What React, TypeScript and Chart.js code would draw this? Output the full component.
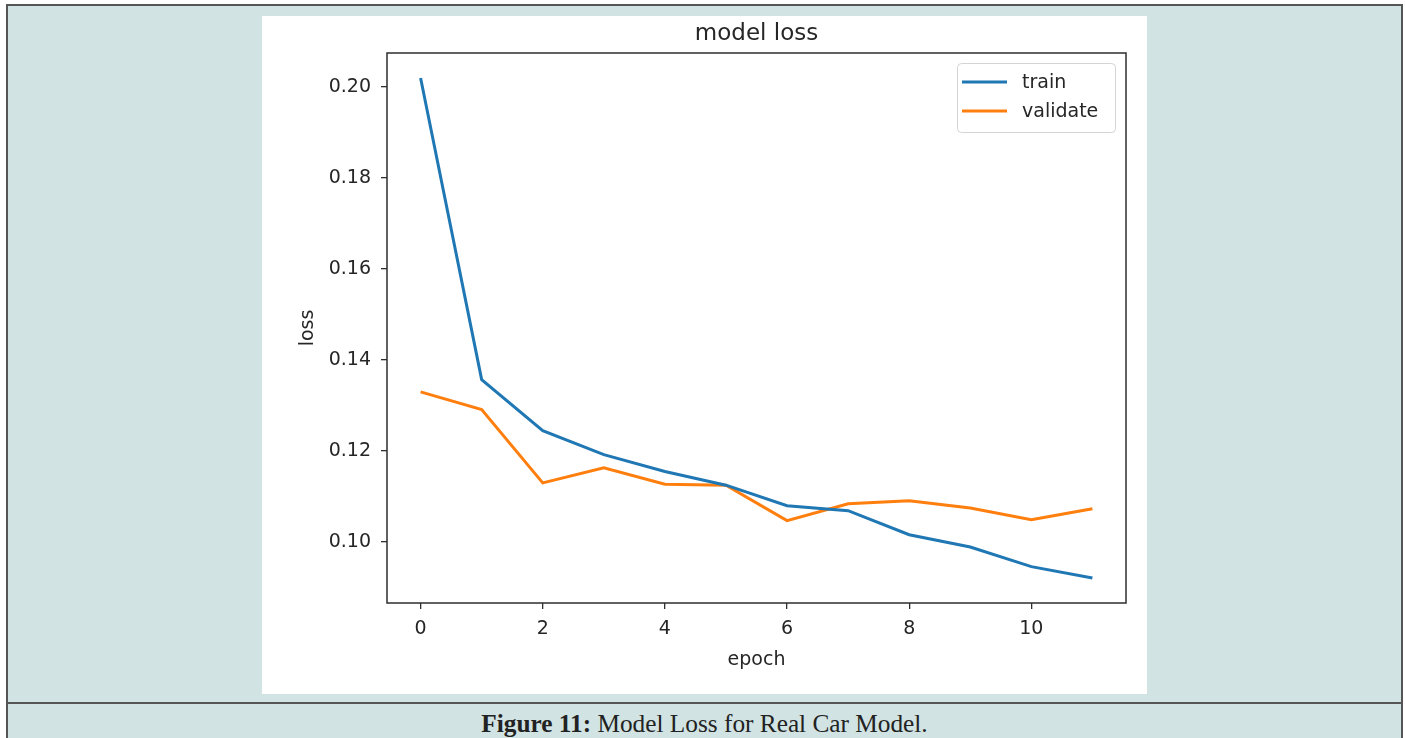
import React, { useEffect, useRef } from "react";
import { Chart, registerables } from "chart.js";

Chart.register(...registerables);

// ---- data ----
const EPOCHS = [0, 1, 2, 3, 4, 5, 6, 7, 8, 9, 10, 11];
const TRAIN_LOSS = [0.202, 0.1357, 0.1245, 0.1192, 0.1155, 0.1125, 0.108, 0.1069, 0.1016, 0.0989, 0.0946, 0.0921];
const VALIDATE_LOSS = [0.133, 0.1291, 0.113, 0.1163, 0.1127, 0.1125, 0.1047, 0.1084, 0.1091, 0.1075, 0.1049, 0.1073];
const SERIES_LABELS = ["train", "validate"];
const X_TICKS = [0, 2, 4, 6, 8, 10];
const Y_TICKS = [0.1, 0.12, 0.14, 0.16, 0.18, 0.2];
const X_RANGE = [-0.55, 11.55];
const Y_RANGE = [0.0866, 0.2075];
const CHART_TITLE = "model loss";
const X_TITLE = "epoch";
const Y_TITLE = "loss";
const CAPTION_BOLD = "Figure 11:";
const CAPTION_TEXT = " Model Loss for Real Car Model.";

// ---- styles ----
const FONT = '"DejaVu Sans", sans-serif';
const TEXT_COLOR = "#262626";
const AXIS_COLOR = "#2e2e2e";
const BLUE = "#1f77b4";
const ORANGE = "#ff7f0e";
const TEAL = "#d1e4e3";
const BORDER = "#555555";

const framePlugin = {
  id: "frame",
  afterDatasetsDraw(chart: any) {
    const { ctx, chartArea: a } = chart;
    ctx.save();
    ctx.strokeStyle = AXIS_COLOR;
    ctx.lineWidth = 1.5;
    ctx.strokeRect(a.left, a.top, a.right - a.left, a.bottom - a.top);
    ctx.restore();
  },
};

const titlePlugin = {
  id: "mplTitle",
  afterDraw(chart: any) {
    const { ctx, chartArea: a } = chart;
    ctx.save();
    ctx.fillStyle = TEXT_COLOR;
    ctx.font = `23px ${FONT}`;
    ctx.textAlign = "center";
    ctx.textBaseline = "middle";
    ctx.fillText(CHART_TITLE, (a.left + a.right) / 2, a.top - 19);
    ctx.restore();
  },
};

const legendPlugin = {
  id: "mplLegend",
  afterDraw(chart: any) {
    const { ctx, chartArea: a } = chart;
    const boxW = 158;
    const boxH = 69;
    const bx = Math.round(a.right - 11 - boxW);
    const by = Math.round(a.top + 10);
    ctx.save();
    ctx.beginPath();
    (ctx as any).roundRect(bx + 0.5, by + 0.5, boxW, boxH, 4);
    ctx.fillStyle = "rgba(255,255,255,0.85)";
    ctx.fill();
    ctx.strokeStyle = "#d4d4d4";
    ctx.lineWidth = 1;
    ctx.stroke();
    chart.data.datasets.forEach((ds: any, i: number) => {
      const y = by + 19 + i * 29;
      ctx.strokeStyle = ds.borderColor;
      ctx.lineWidth = 3;
      ctx.beginPath();
      ctx.moveTo(bx + 5, y);
      ctx.lineTo(bx + 50, y);
      ctx.stroke();
      ctx.fillStyle = TEXT_COLOR;
      ctx.font = `19px ${FONT}`;
      ctx.textAlign = "left";
      ctx.textBaseline = "middle";
      ctx.fillText(ds.label, bx + 65, y + 1);
    });
    ctx.restore();
  },
};

function ChartCanvas() {
  const ref = useRef<HTMLCanvasElement | null>(null);
  useEffect(() => {
    if (!ref.current) return;
    const chart = new Chart(ref.current, {
      type: "line",
      data: {
        datasets: [
          {
            label: SERIES_LABELS[0],
            data: EPOCHS.map((e, i) => ({ x: e, y: TRAIN_LOSS[i] })),
            borderColor: BLUE,
            backgroundColor: BLUE,
            borderWidth: 3,
            pointRadius: 0,
            tension: 0,
          },
          {
            label: SERIES_LABELS[1],
            data: EPOCHS.map((e, i) => ({ x: e, y: VALIDATE_LOSS[i] })),
            borderColor: ORANGE,
            backgroundColor: ORANGE,
            borderWidth: 3,
            pointRadius: 0,
            tension: 0,
          },
        ],
      },
      options: {
        animation: false,
        responsive: false,
        devicePixelRatio: 1,
        layout: { padding: { top: 37, right: 21, bottom: 0, left: 0 } },
        plugins: {
          legend: { display: false },
          title: { display: false },
          tooltip: { enabled: false },
        },
        scales: {
          x: {
            type: "linear",
            min: X_RANGE[0],
            max: X_RANGE[1],
            afterBuildTicks: (s: any) => {
              s.ticks = X_TICKS.map((v) => ({ value: v }));
            },
            afterFit: (s: any) => {
              s.height = 91;
            },
            grid: { drawOnChartArea: false, drawTicks: true, tickLength: 6, color: AXIS_COLOR, lineWidth: 1.3 },
            border: { display: false },
            ticks: {
              padding: 9,
              color: TEXT_COLOR,
              font: { family: FONT, size: 19 },
              maxRotation: 0,
              callback: (v: any) => String(v),
            },
            title: {
              display: true,
              text: X_TITLE,
              color: TEXT_COLOR,
              font: { family: FONT, size: 19 },
              padding: { top: 0, bottom: 23 },
            },
          },
          y: {
            type: "linear",
            min: Y_RANGE[0],
            max: Y_RANGE[1],
            afterBuildTicks: (s: any) => {
              s.ticks = Y_TICKS.map((v) => ({ value: v }));
            },
            afterFit: (s: any) => {
              s.width = 125;
            },
            grid: { drawOnChartArea: false, drawTicks: true, tickLength: 6, color: AXIS_COLOR, lineWidth: 1.3 },
            border: { display: false },
            ticks: {
              padding: 10,
              color: TEXT_COLOR,
              font: { family: FONT, size: 19 },
              callback: (v: any) => Number(v).toFixed(2),
            },
            title: {
              display: true,
              text: Y_TITLE,
              color: TEXT_COLOR,
              font: { family: FONT, size: 19 },
              padding: { top: 35, bottom: 0 },
            },
          },
        },
      },
      plugins: [framePlugin, titlePlugin, legendPlugin],
    } as any);
    return () => chart.destroy();
  }, []);
  return <canvas ref={ref} width={885} height={678} style={{ display: "block", width: 885, height: 678 }} />;
}

export default function App() {
  return (
    <div
      style={{
        position: "absolute",
        left: 0,
        top: 0,
        width: 1405,
        height: 738,
        overflow: "hidden",
        background: "#ffffff",
      }}
    >
      <div
        style={{
          position: "absolute",
          left: 6,
          top: 4,
          width: 1393,
          height: 760,
          background: TEAL,
          borderLeft: `2px solid ${BORDER}`,
          borderTop: `2px solid ${BORDER}`,
          borderRight: `2px solid ${BORDER}`,
        }}
      />
      <div style={{ position: "absolute", left: 6, top: 702, width: 1397, height: 2, background: BORDER }} />
      <div style={{ position: "absolute", left: 262, top: 16, width: 885, height: 678, background: "#fff" }}>
        <ChartCanvas />
      </div>
      <div
        style={{
          position: "absolute",
          left: 8,
          width: 1393,
          top: 709,
          lineHeight: "28px",
          textAlign: "center",
          fontFamily: '"Liberation Serif", serif',
          fontSize: 25.3,
          color: "#222",
          whiteSpace: "nowrap",
        }}
      >
        <b>{CAPTION_BOLD}</b>
        {CAPTION_TEXT}
      </div>
    </div>
  );
}
